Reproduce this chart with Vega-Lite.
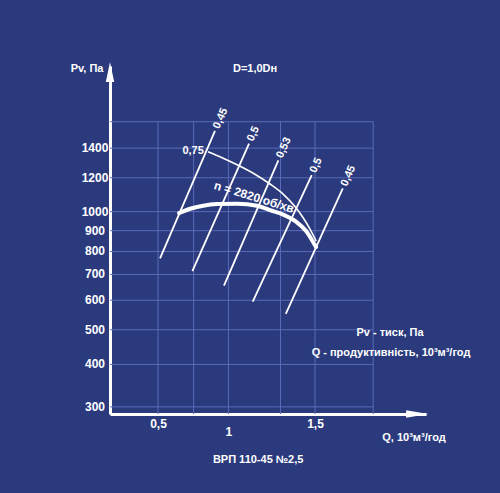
{
  "$schema": "https://vega.github.io/schema/vega-lite/v6.json",
  "width": 316,
  "height": 348,
  "autosize": {"type": "none"},
  "padding": {"left": 110, "top": 66, "right": 74, "bottom": 79},
  "background": "#2b3a7d",
  "config": {
    "view": {"stroke": null},
    "font": "Liberation Sans, Arial, sans-serif",
    "axis": {"labelOverlap": false, "labelFlush": false}
  },
  "datasets": {
    "hgrid": [{"P": 300}, {"P": 400}, {"P": 500}, {"P": 600}, {"P": 700}, {"P": 800}, {"P": 900}, {"P": 1000}, {"P": 1200}, {"P": 1400}, {"P": 1600}],
    "ylab": [{"P": 300}, {"P": 400}, {"P": 500}, {"P": 600}, {"P": 700}, {"P": 800}, {"P": 900}, {"P": 1000}, {"P": 1200}, {"P": 1400}],
    "vgrid": [{"Q": 0.5}, {"Q": 0.77}, {"Q": 1.0}, {"Q": 1.31}, {"Q": 1.5}, {"Q": 1.8}],
    "eff": [
      {"id": "L1", "eta": "0,45", "Q": 0.517, "P": 769},
      {"id": "L1", "eta": "0,45", "Q": 0.914, "P": 1528},
      {"id": "L2", "eta": "0,5", "Q": 0.761, "P": 714},
      {"id": "L2", "eta": "0,5", "Q": 1.127, "P": 1433},
      {"id": "L3", "eta": "0,53", "Q": 0.972, "P": 655},
      {"id": "L3", "eta": "0,53", "Q": 1.298, "P": 1315},
      {"id": "L4", "eta": "0,5", "Q": 1.149, "P": 595},
      {"id": "L4", "eta": "0,5", "Q": 1.4825, "P": 1217},
      {"id": "L5", "eta": "0,45", "Q": 1.340, "P": 552},
      {"id": "L5", "eta": "0,45", "Q": 1.646, "P": 1134}
    ],
    "effTop": [
      {"eta": "0,45", "Q": 0.914, "P": 1528},
      {"eta": "0,5", "Q": 1.127, "P": 1433},
      {"eta": "0,53", "Q": 1.298, "P": 1315},
      {"eta": "0,5", "Q": 1.4825, "P": 1217},
      {"eta": "0,45", "Q": 1.646, "P": 1134}
    ],
    "curveN": [
      {"Q": 0.665, "P": 992}, {"Q": 0.745, "P": 1016}, {"Q": 0.835, "P": 1033}, {"Q": 0.927, "P": 1042},
      {"Q": 1.054, "P": 1044}, {"Q": 1.175, "P": 1033}, {"Q": 1.25, "P": 1008}, {"Q": 1.325, "P": 984},
      {"Q": 1.397, "P": 946}, {"Q": 1.452, "P": 898}, {"Q": 1.484, "P": 853}, {"Q": 1.506, "P": 820}
    ],
    "curve75": [
      {"Q": 0.868, "P": 1375}, {"Q": 0.960, "P": 1333}, {"Q": 1.054, "P": 1285}, {"Q": 1.157, "P": 1226},
      {"Q": 1.25, "P": 1161}, {"Q": 1.325, "P": 1100}, {"Q": 1.391, "P": 1028}, {"Q": 1.435, "P": 968},
      {"Q": 1.473, "P": 908}, {"Q": 1.506, "P": 849}
    ],
    "notes": [
      {"label": "Pv, Па", "Q": -0.368, "P": 2067},
      {"label": "D=1,0Dн", "Q": 1.163, "P": 2067},
      {"label": "0,75", "Q": 0.766, "P": 1378},
      {"label": "Pv - тиск, Па", "Q": 1.883, "P": 490},
      {"label": "Q - продуктивність, 10³м³/год", "Q": 1.888, "P": 431},
      {"label": "Q, 10³м³/год", "Q": 1.999, "P": 240.6},
      {"label": "ВРП 110-45 №2,5", "Q": 1.181, "P": 204.4}
    ],
    "speed": [{"label": "n = 2820 об/хв", "Q": 1.157, "P": 1083}]
  },
  "layer": [
    {
      "data": {"name": "hgrid"},
      "mark": {"type": "rule", "color": "#5a6bb8", "strokeWidth": 1},
      "encoding": {
        "y": {"field": "P", "type": "quantitative", "title": null,
          "scale": {"type": "pow", "exponent": 0.2, "domain": [285.4, 2097], "nice": false, "zero": false}},
        "x": {"datum": -0.108, "type": "quantitative", "title": null,
          "scale": {"type": "pow", "exponent": 1.4, "domain": [-0.108, 2.056], "nice": false, "zero": false}},
        "x2": {"datum": 1.8}
      }
    },
    {
      "data": {"name": "vgrid"},
      "mark": {"type": "rule", "color": "#5a6bb8", "strokeWidth": 1},
      "encoding": {
        "x": {"field": "Q", "type": "quantitative", "title": null},
        "y": {"datum": 285.4, "type": "quantitative", "title": null},
        "y2": {"datum": 1600}
      }
    },
    {
      "data": {"name": "eff"},
      "mark": {"type": "line", "color": "white", "strokeWidth": 1.8},
      "encoding": {
        "x": {
          "field": "Q", "type": "quantitative", "title": null,
          "axis": {
            "values": [0.5, 1, 1.5],
            "labelExpr": "replace(format(datum.value, '~g'), '.', ',')",
            "title": null, "grid": false, "ticks": false, "tickSize": 0,
            "domainColor": "white", "domainWidth": 3,
            "labelColor": "white", "labelFontSize": 12, "labelFontWeight": "bold",
            "labelBaseline": "middle",
            "labelPadding": {"condition": {"test": "datum.value == 1", "value": 17}, "value": 9},
            "labelOverlap": false, "labelFlush": false
          }
        },
        "y": {
          "field": "P", "type": "quantitative", "title": null,
          "axis": {
            "values": [300, 1400],
            "labels": false, "title": null, "grid": false, "ticks": false, "tickSize": 0,
            "domainColor": "white", "domainWidth": 3
          }
        },
        "detail": {"field": "id"}
      }
    },
    {
      "data": {"name": "ylab"},
      "mark": {"type": "text", "color": "white", "fontSize": 12, "fontWeight": "bold", "align": "center", "baseline": "middle", "dx": -15},
      "encoding": {
        "x": {"datum": -0.108, "type": "quantitative", "title": null},
        "y": {"field": "P", "type": "quantitative", "title": null},
        "text": {"field": "P", "format": "d"}
      }
    },
    {
      "data": {"name": "curve75"},
      "mark": {"type": "line", "color": "white", "strokeWidth": 1.6, "interpolate": "monotone"},
      "encoding": {
        "x": {"field": "Q", "type": "quantitative", "title": null},
        "y": {"field": "P", "type": "quantitative", "title": null}
      }
    },
    {
      "data": {"name": "curveN"},
      "mark": {"type": "line", "color": "white", "strokeWidth": 4, "interpolate": "monotone", "strokeCap": "round"},
      "encoding": {
        "x": {"field": "Q", "type": "quantitative", "title": null},
        "y": {"field": "P", "type": "quantitative", "title": null}
      }
    },
    {
      "data": {"name": "effTop"},
      "mark": {"type": "text", "color": "white", "fontSize": 11, "fontWeight": "bold", "align": "left", "baseline": "middle", "angle": -66, "dx": 3},
      "encoding": {
        "x": {"field": "Q", "type": "quantitative", "title": null},
        "y": {"field": "P", "type": "quantitative", "title": null},
        "text": {"field": "eta"}
      }
    },
    {
      "data": {"name": "notes"},
      "mark": {"type": "text", "color": "white", "fontSize": 11, "fontWeight": "bold", "align": "center", "baseline": "middle"},
      "encoding": {
        "x": {"field": "Q", "type": "quantitative", "title": null},
        "y": {"field": "P", "type": "quantitative", "title": null},
        "text": {"field": "label"}
      }
    },
    {
      "data": {"name": "speed"},
      "mark": {"type": "text", "color": "white", "fontSize": 12, "fontWeight": "bold", "align": "center", "baseline": "middle", "angle": 17},
      "encoding": {
        "x": {"field": "Q", "type": "quantitative", "title": null},
        "y": {"field": "P", "type": "quantitative", "title": null},
        "text": {"field": "label"}
      }
    },
    {
      "data": {"values": [{}]},
      "mark": {"type": "point", "shape": "M0,-1L0.42,1L-0.42,1Z", "size": 400, "filled": true, "color": "white", "opacity": 1, "strokeWidth": 0},
      "encoding": {
        "x": {"datum": -0.108, "type": "quantitative", "title": null},
        "y": {"datum": 2037, "type": "quantitative", "title": null}
      }
    },
    {
      "data": {"values": [{}]},
      "mark": {"type": "point", "shape": "M1,0L-1,-0.34L-1,0.34Z", "size": 484, "filled": true, "color": "white", "opacity": 1, "strokeWidth": 0},
      "encoding": {
        "x": {"datum": 2.0138, "type": "quantitative", "title": null},
        "y": {"datum": 285.4, "type": "quantitative", "title": null}
      }
    }
  ]
}
